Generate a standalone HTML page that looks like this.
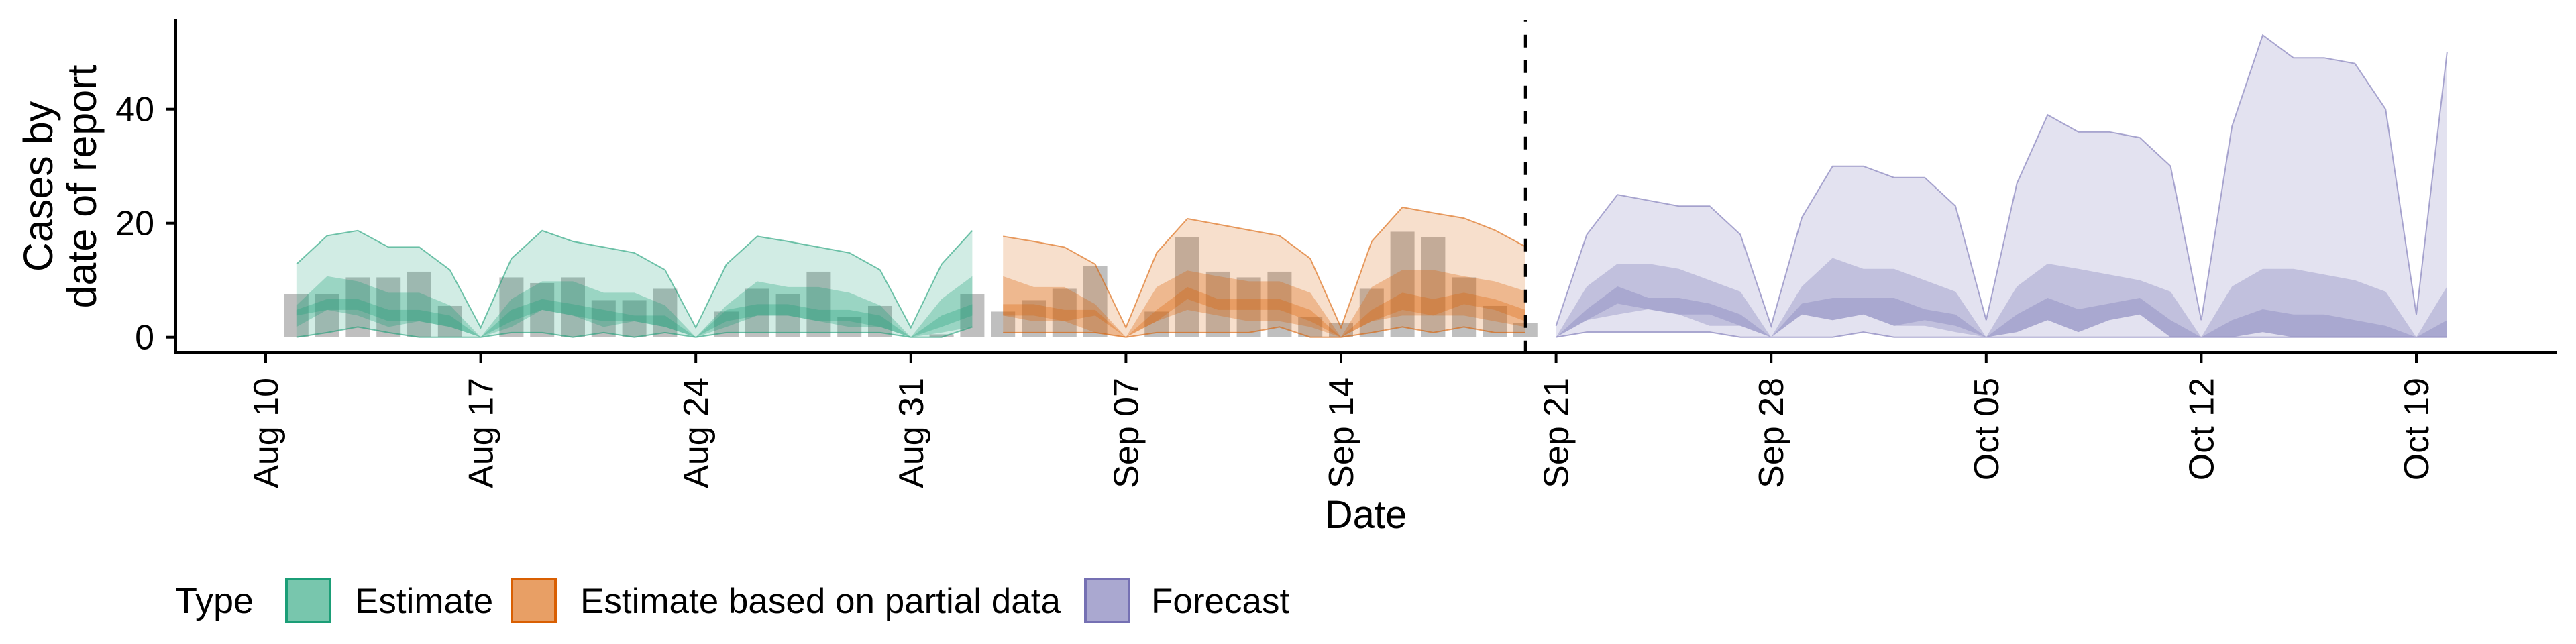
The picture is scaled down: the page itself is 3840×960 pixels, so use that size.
<!DOCTYPE html>
<html><head><meta charset="utf-8"><style>
html,body{margin:0;padding:0;background:#fff;}
svg{display:block;font-family:"Liberation Sans",Arial,sans-serif;}
</style></head><body>
<svg id="chart" width="3840" height="960" viewBox="0 0 3840 960" xmlns="http://www.w3.org/2000/svg">
<g id="bars"></g>
<g id="ribbons"></g>
<line x1="2274" y1="526.7" x2="2274" y2="30" stroke="#000" stroke-width="4.5" stroke-dasharray="19 19"/>
<g id="axes">
<line x1="262" y1="28" x2="262" y2="527" stroke="#000" stroke-width="4"/>
<line x1="260" y1="525" x2="3811" y2="525" stroke="#000" stroke-width="4"/>
</g>
<g id="yticks"></g>
<g id="xticks"></g>
<text transform="translate(78,278) rotate(-90)" text-anchor="middle" font-size="61">Cases by</text>
<text transform="translate(143,278) rotate(-90)" text-anchor="middle" font-size="61">date of report</text>
<text x="2036" y="787" text-anchor="middle" font-size="58">Date</text>
<g>
<text x="261" y="914" font-size="54">Type</text>
<g>
<rect x="427" y="863" width="65" height="64" fill="#78c6ad" stroke="#1B9E77" stroke-width="4"/>
<text x="529" y="914" font-size="53">Estimate</text></g>
<g>
<rect x="763" y="863" width="65" height="64" fill="#e89f65" stroke="#D95F02" stroke-width="4"/>
<text x="865" y="914" font-size="53">Estimate based on partial data</text></g>
<g>
<rect x="1618" y="863" width="65" height="64" fill="#aaa8d0" stroke="#7570B3" stroke-width="4"/>
<text x="1716" y="914" font-size="53">Forecast</text></g>
</g>
</svg>
<script>
const barValues=[7.5,7.5,10.5,10.5,11.5,5.5,0, 10.5,9.5,10.5,6.5,6.5,8.5,0, 4.5,8.5,7.5,11.5,3.5,5.5,0, 0.5,7.5, 4.5,6.5,8.5,12.5,0, 4.5,17.5,11.5,10.5,11.5,3.5,2.5, 8.5,18.5,17.5,10.5,5.5,2.5];
const barStart=1;
const estStart=1;
const estOuterU=[12.8,17.8,18.7,15.8,15.8,11.8,1.7, 13.8,18.7,16.8,15.8,14.8,11.8,1.7, 12.8,17.7,16.8,15.8,14.8,11.8,1.7, 12.8,18.7];
const estOuterL=[0,0.8,1.8,0.8,0,0,0, 0.8,0.8,0,0.8,0,0.8,0, 0.8,0.8,0.8,0.8,0.8,0.8,0, 0,1.8];
const estMidU=[5.6,10.7,9.8,7.8,7.8,5.6,0, 6.7,9.8,9.8,7.8,7.8,5.6,0, 5.6,9.8,8.8,8.8,7.8,5.6,0, 6.7,10.7];
const estMidL=[1.8,4.8,3.8,1.8,2.8,1.8,0, 1.8,4.8,3.8,1.8,2.8,1.8,0, 1.8,3.8,3.8,2.8,1.8,1.8,0, 0.8,1.8];
const estInU=[4.8,6.7,6.7,4.8,4.8,3.8,0, 4.8,6.7,5.8,4.8,3.8,3.8,0, 4.8,5.8,5.8,4.8,4.8,3.8,0, 3.8,5.8];
const estInL=[3.8,4.8,4.8,2.8,2.8,1.8,0, 2.8,4.8,3.8,2.8,2.8,1.8,0, 2.8,3.8,3.8,2.8,2.8,1.8,0, 1.8,3.8];
const parStart=24;
const parOuterU=[17.7,16.8,15.8,12.8,1.7, 14.8,20.8,19.8,18.8,17.8,13.8,1.7, 16.8,22.8,21.8,20.9,18.8,15.9];
const parOuterL=[0.8,0.8,0.8,0.8,0, 0.8,0.8,0.8,0.8,1.8,0,0, 0.8,1.8,0.8,1.8,0.8,0.8];
const parMidU=[10.7,8.8,8.8,5.8,0, 8.8,11.7,10.7,9.8,9.8,7.8,0, 8.8,11.8,11.8,10.7,9.8,8.1];
const parMidL=[3.8,2.8,2.8,0.8,0, 2.8,4.8,3.8,2.8,2.8,1.8,0, 2.8,3.8,3.8,3.8,2.8,1.8];
const parInU=[5.8,5.8,4.8,4.8,0, 4.8,8.8,6.7,6.7,6.7,4.8,0, 4.8,7.8,6.7,7.8,6.7,4.8];
const parInL=[3.8,3.8,2.8,3.8,0, 2.8,6.7,4.8,4.8,4.8,2.8,0, 2.8,4.8,3.8,5.8,4.8,2.8];
const fcStart=42;
const fcOuterU=[2,18,25,24,23,23,18, 2,21,30,30,28,28,23, 3,27,39,36,36,35,30, 3,37,53,49,49,48,40, 4,50];
const fcOuterL=[0,0.9,0.9,0.9,0.9,0.9,0, 0,0,0,0.9,0,0,0, 0,0,0,0,0,0,0, 0,0,0,0,0,0,0, 0,0];
const fcMidU=[0,8.9,12.9,12.9,12,10,8, 0,8.9,13.9,12,12,10,8, 0,8.9,12.9,12,11,10,8, 0,8.9,12,12,11,10,8, 0,8.9];
const fcMidL=[0,3,4,4.9,4,4,2, 0,4,3,4,2,3,2, 0,0.9,3,0.9,3,4,0, 0,0,0.9,0,0,0,0, 0,0];
const fcInU=[0,4.9,8.9,6.9,6.9,5.9,4, 0,5.9,6.9,6.9,6.9,4.9,4, 0,4,6.9,4.9,5.9,6.9,3, 0,3,4.9,4,4,3,2, 0,3];
const fcInL=[0,3,5.9,4.9,4,2,2, 0,4,3,4,2,2,0.9, 0,0.9,3,0.9,3,4,0, 0,0,0.9,0,0,0,0, 0,0];
const yTickValues=[0,20,40];
const xTickDays=[0,7,14,21,28,35,42,49,56,63,70];
const xTickLabels=["Aug 10","Aug 17","Aug 24","Aug 31","Sep 07","Sep 14","Sep 21","Sep 28","Oct 05","Oct 12","Oct 19"];

const NS="http://www.w3.org/2000/svg";
function xs(d){return 396+d*45.8;}
function ys(v){return 502.7-v*8.5;}
function mk(tag,attrs,parent){const e=document.createElementNS(NS,tag);for(const k in attrs)e.setAttribute(k,attrs[k]);parent.appendChild(e);return e;}

const gb=document.getElementById('bars');
barValues.forEach((v,i)=>{
  const d=barStart+i;
  const r=mk('rect',{x:xs(d)-18,y:ys(v),width:36,height:Math.max(0,ys(0)-ys(v)),fill:'#bfbfbf'},gb);
  
  
});

const gr=document.getElementById('ribbons');
function ribbon(start,up,lo,color,op,stroke,name){
  let pts=[];
  up.forEach((v,i)=>pts.push(xs(start+i).toFixed(1)+','+ys(v).toFixed(1)));
  for(let i=lo.length-1;i>=0;i--)pts.push(xs(start+i).toFixed(1)+','+ys(lo[i]).toFixed(1));
  const p=mk('polygon',{points:pts.join(' '),fill:color,'fill-opacity':op},gr);
  
  
  if(stroke){
    const a=up.map((v,i)=>xs(start+i).toFixed(1)+','+ys(v).toFixed(1)).join(' ');
    const b=lo.map((v,i)=>xs(start+i).toFixed(1)+','+ys(v).toFixed(1)).join(' ');
    [a,b].forEach(s=>{const l=mk('polyline',{points:s,fill:'none',stroke:color,'stroke-opacity':0.6,'stroke-width':2},gr);
      
      });
  }
}
const series=[
 [estStart,estOuterU,estOuterL,estMidU,estMidL,estInU,estInL,'#1B9E77','estimate'],
 [parStart,parOuterU,parOuterL,parMidU,parMidL,parInU,parInL,'#D95F02','partial'],
 [fcStart,fcOuterU,fcOuterL,fcMidU,fcMidL,fcInU,fcInL,'#7570B3','forecast']];
series.forEach(s=>{
  ribbon(s[0],s[1],s[2],s[7],0.2,true,s[8]+'-ribbon-90');
  ribbon(s[0],s[3],s[4],s[7],0.3,false,s[8]+'-ribbon-50');
  ribbon(s[0],s[5],s[6],s[7],0.3,false,s[8]+'-ribbon-20');
});

const gy=document.getElementById('yticks');
yTickValues.forEach(v=>{
  const l=mk('line',{x1:247,x2:262,y1:ys(v),y2:ys(v),stroke:'#000','stroke-width':4},gy);
  
  
  const t=mk('text',{x:230,y:ys(v)+18,'text-anchor':'end','font-size':52},gy);
  
  
  t.textContent=v;
});
const gx=document.getElementById('xticks');
xTickDays.forEach((d,i)=>{
  const x=xs(d);
  const l=mk('line',{x1:x,x2:x,y1:525,y2:541,stroke:'#000','stroke-width':4},gx);
  
  
  const t=mk('text',{transform:'translate('+(x+18)+',563) rotate(-90)','text-anchor':'end','font-size':52},gx);
  
  
  t.textContent=xTickLabels[i];
});
</script>
</body></html>
